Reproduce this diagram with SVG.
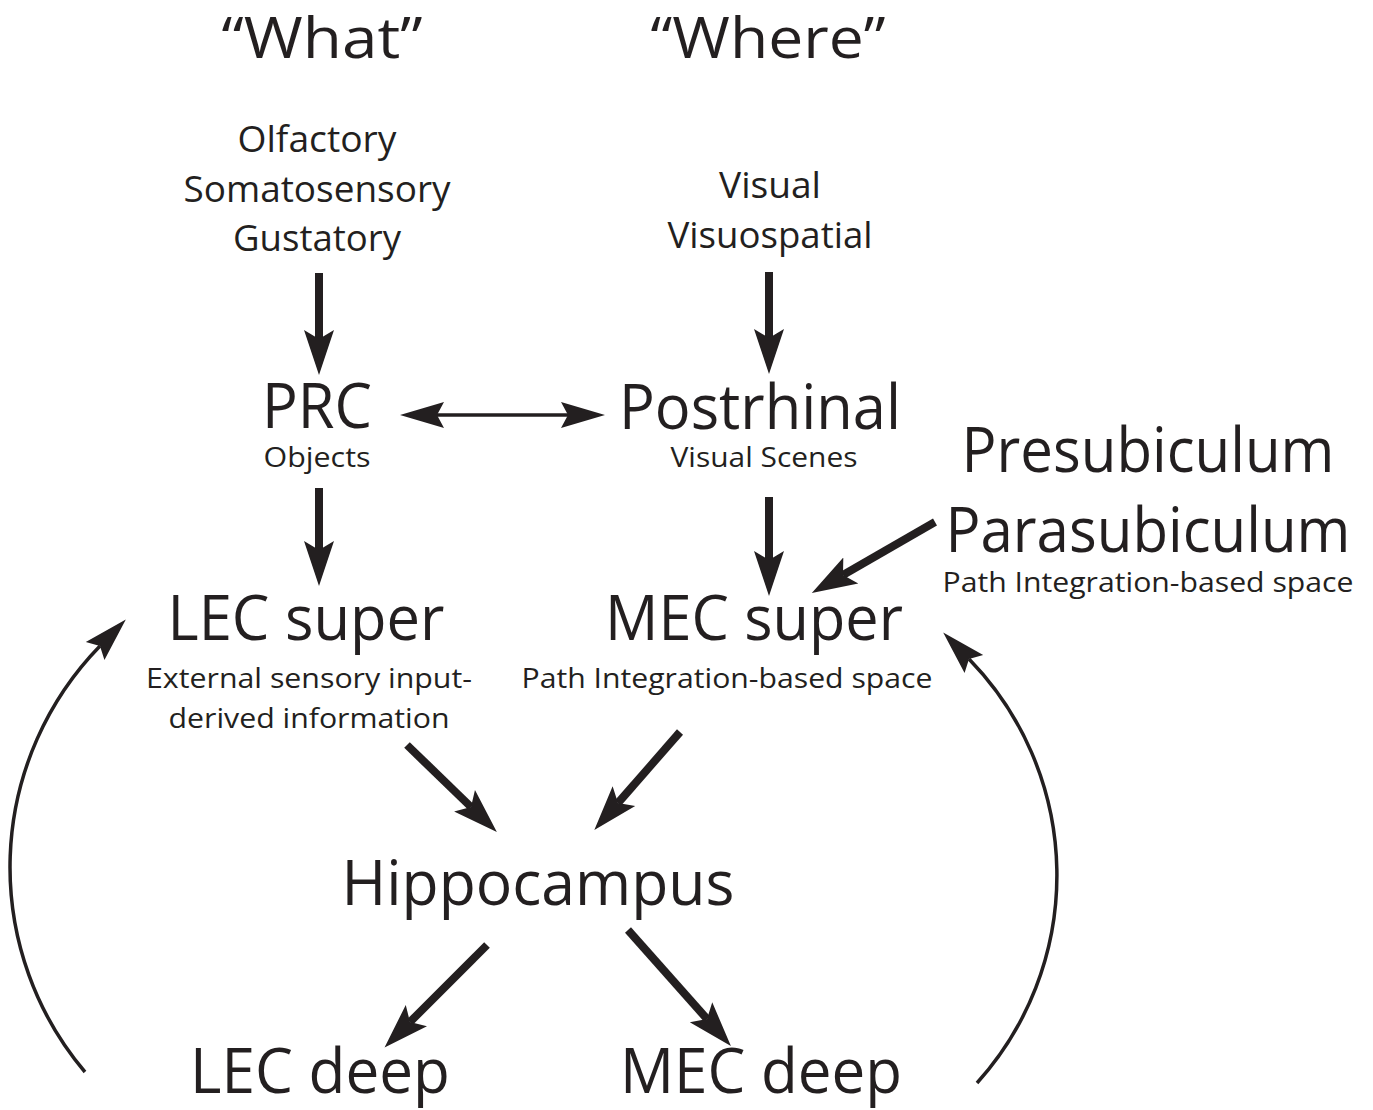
<svg xmlns="http://www.w3.org/2000/svg" width="1373" height="1110" viewBox="0 0 1373 1110">
<style>
text{font-family:"Open Sans","Noto Sans","Liberation Sans",sans-serif;fill:#231f20;text-anchor:middle}
.h{font-size:56px}.l{font-size:36px}.b{font-size:62px}.s{font-size:27px}
.thick{stroke:#231f20;stroke-width:8;fill:none;marker-end:url(#hk)}
.thin{stroke:#231f20;stroke-width:3.5;fill:none;marker-end:url(#ht)}
</style>
<defs>
<marker id="hk" markerUnits="userSpaceOnUse" markerWidth="50" markerHeight="34" refX="9" refY="17" orient="auto" viewBox="0 0 50 34"><path d="M45,17 L0,2 L9,17 L0,32 Z" fill="#231f20"/></marker>
<marker id="ht" markerUnits="userSpaceOnUse" markerWidth="50" markerHeight="30" refX="7" refY="15" orient="auto" viewBox="0 0 50 30"><path d="M44,15 L0,2 L7,15 L0,28 Z" fill="#231f20"/></marker>
<marker id="hs" markerUnits="userSpaceOnUse" markerWidth="50" markerHeight="30" refX="7" refY="15" orient="auto-start-reverse" viewBox="0 0 50 30"><path d="M44,15 L0,2 L7,15 L0,28 Z" fill="#231f20"/></marker>
</defs>
<g id="what"><text class="h" x="322" y="58" textLength="201" lengthAdjust="spacingAndGlyphs">“What”</text></g>
<g id="where"><text class="h" x="768" y="58" textLength="235" lengthAdjust="spacingAndGlyphs">“Where”</text></g>
<g id="senses">
<text class="l" x="317" y="152" textLength="159" lengthAdjust="spacingAndGlyphs">Olfactory</text>
<text class="l" x="317" y="202" textLength="267" lengthAdjust="spacingAndGlyphs">Somatosensory</text>
<text class="l" x="317" y="251" textLength="168" lengthAdjust="spacingAndGlyphs">Gustatory</text>
</g>
<g id="visual">
<text class="l" x="770" y="198" textLength="102" lengthAdjust="spacingAndGlyphs">Visual</text>
<text class="l" x="770" y="248" textLength="205" lengthAdjust="spacingAndGlyphs">Visuospatial</text>
</g>
<g id="prc">
<text class="b" x="317" y="428" textLength="110" lengthAdjust="spacingAndGlyphs">PRC</text>
<text class="s" x="317" y="467" textLength="107" lengthAdjust="spacingAndGlyphs">Objects</text>
</g>
<g id="postrhinal">
<text class="b" x="760" y="429" textLength="282" lengthAdjust="spacingAndGlyphs">Postrhinal</text>
<text class="s" x="764" y="467" textLength="187" lengthAdjust="spacingAndGlyphs">Visual Scenes</text>
</g>
<g id="presub">
<text class="b" x="1148" y="472" textLength="373" lengthAdjust="spacingAndGlyphs">Presubiculum</text>
<text class="b" x="1148" y="552" textLength="405" lengthAdjust="spacingAndGlyphs">Parasubiculum</text>
<text class="s" x="1148" y="592" textLength="411" lengthAdjust="spacingAndGlyphs">Path Integration-based space</text>
</g>
<g id="lec-super">
<text class="b" x="306" y="640" textLength="277" lengthAdjust="spacingAndGlyphs">LEC super</text>
<text class="s" x="309" y="688" textLength="326" lengthAdjust="spacingAndGlyphs">External sensory input-</text>
<text class="s" x="309" y="728" textLength="281" lengthAdjust="spacingAndGlyphs">derived information</text>
</g>
<g id="mec-super">
<text class="b" x="754" y="640" textLength="298" lengthAdjust="spacingAndGlyphs">MEC super</text>
<text class="s" x="727" y="688" textLength="411" lengthAdjust="spacingAndGlyphs">Path Integration-based space</text>
</g>
<g id="hippocampus"><text class="b" x="538" y="905" textLength="393" lengthAdjust="spacingAndGlyphs">Hippocampus</text></g>
<g id="lec-deep"><text class="b" x="320" y="1093" textLength="260" lengthAdjust="spacingAndGlyphs">LEC deep</text></g>
<g id="mec-deep"><text class="b" x="761" y="1093" textLength="282" lengthAdjust="spacingAndGlyphs">MEC deep</text></g>
<g id="connectors">
<path class="thick" d="M319,273 L319,339"/>
<path class="thick" d="M769,272 L769,338"/>
<path class="thick" d="M319,488 L319,550"/>
<path class="thick" d="M769,497 L769,560"/>
<path class="thick" d="M935,522 L843,575"/>
<path class="thick" d="M407,745 L471,807"/>
<path class="thick" d="M680,732 L618,803"/>
<path class="thick" d="M487,945 L410,1022"/>
<path class="thick" d="M628,930 L707,1019"/>
<path d="M437,415 L568,415" stroke="#231f20" stroke-width="3.5" fill="none" marker-start="url(#hs)" marker-end="url(#hs)"/>
<path class="thin" d="M85,1072 A317,317 0 0,1 100,646"/>
<path class="thin" d="M977,1083 A310,310 0 0,0 969,659"/>
</g>
</svg>
